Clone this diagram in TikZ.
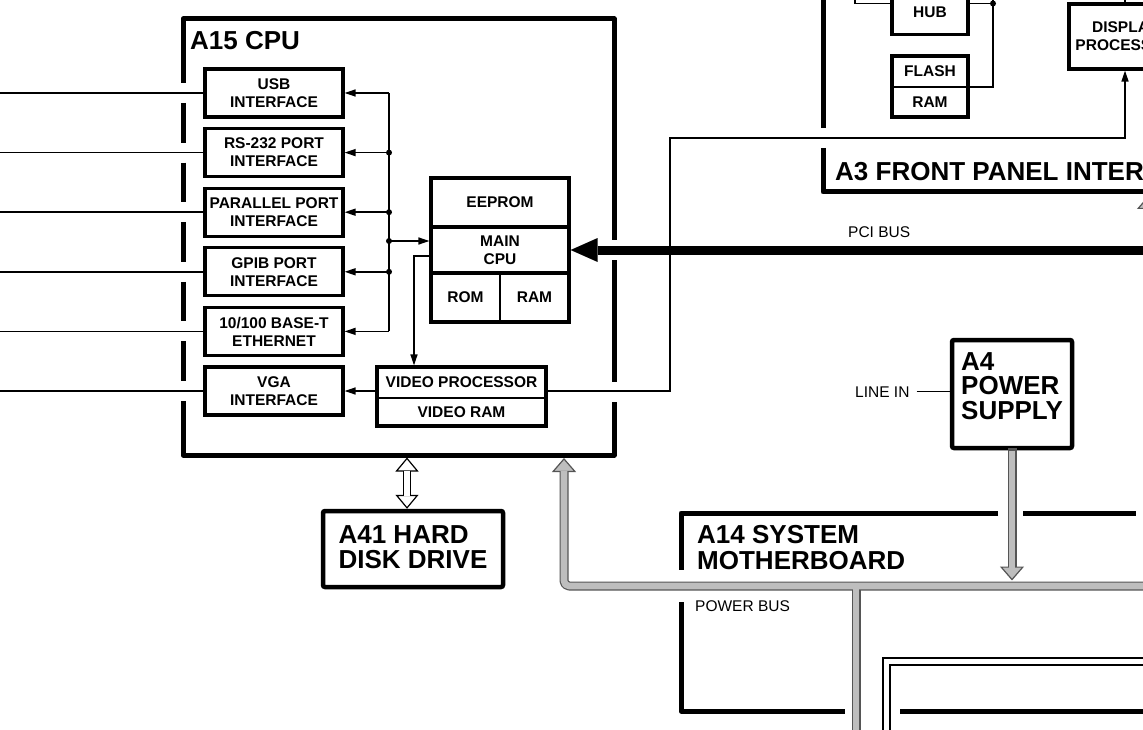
\documentclass[tikz,border=0pt]{standalone}
\usepackage{fontspec}
\setmainfont{Liberation Sans}
\usepackage{tikz}
\usetikzlibrary{arrows.meta, positioning, calc}
\definecolor{busgray}{RGB}{190, 190, 190}
\definecolor{busedge}{RGB}{85, 85, 85}

\begin{document}
\begin{tikzpicture}[
    x=1pt, y=-1pt,
    node distance=11.6pt,
    port/.style={rectangle, draw, line width=3.3pt, outer sep=0pt, minimum width=138pt,
                 minimum height=48pt, align=center, inner sep=1pt,
                 font=\fontsize{15.5}{18}\selectfont\bfseries},
    cell/.style={port, minimum height=0pt},
    subcell/.style={cell, line width=1.5pt},
    module/.style={rectangle, draw, line width=4.5pt, rounded corners=2pt, outer sep=0pt,
                   align=left, inner sep=0pt, font=\fontsize{26}{24.5}\selectfont\bfseries},
    boardtitle/.style={anchor=north west, inner sep=0pt, align=left,
                       font=\fontsize{26}{26}\selectfont\bfseries},
    buslabel/.style={inner sep=0pt, anchor=base west, font=\fontsize{15.5}{18}\selectfont},
    boardline/.style={line width=5pt, line join=round},
    wire/.style={line width=1.5pt},
    arrow/.style={wire, shorten >=1.6pt, -{Triangle[length=11pt, width=7pt]}},
    pci/.style={line width=9pt, shorten >=1.6pt, -{Triangle[length=27pt, width=24pt, line width=0pt]}},
    busline/.style={line width=9pt, busedge, line join=round},
    busfill/.style={line width=6.6pt, busgray, line join=round},
    bustip/.style={-{Triangle[length=14pt, width=24pt, fill=busgray, line width=1.2pt]}},
    diskline/.style={line width=8pt, shorten >=2.2pt,
                     {Triangle[length=14pt, width=23pt, fill=white, line width=1.2pt]}-{Triangle[length=14pt, width=23pt, fill=white, line width=1.2pt]}},
    dot/.style={circle, fill, inner sep=0pt, minimum size=6pt}
]
\useasboundingbox (0,0) rectangle (1143,730);

% A15 CPU
\node[port] (usb) at (274,93) {USB\\INTERFACE};
\node[port, below=of usb] (rs) {RS-232 PORT\\INTERFACE};
\node[port, below=of rs] (par) {PARALLEL PORT\\INTERFACE};
\node[port, below=of par] (gpib) {GPIB PORT\\INTERFACE};
\node[port, below=of gpib] (eth) {10/100 BASE-T\\ETHERNET};
\node[port, below=of eth] (vga) {VGA\\INTERFACE};

\node[cell, minimum height=49pt] (eeprom) at (500,202.5) {EEPROM};
\node[cell, minimum height=46pt, below=0pt of eeprom] (main) {MAIN\\CPU};
\node[subcell, minimum width=69pt, minimum height=49pt, below right=0pt of main.south west] (rom) {ROM};
\node[subcell, minimum width=69pt, minimum height=49pt, right=0pt of rom] (ram) {RAM};
\draw[line width=3.3pt] (rom.north west) rectangle (ram.south east);

\node[subcell, minimum width=169pt, minimum height=31pt] (vp) at (461.5,382.5) {VIDEO PROCESSOR};
\node[subcell, minimum width=169pt, minimum height=28pt, below=0pt of vp] (vram) {VIDEO RAM};
\draw[line width=3.3pt] (vp.north west) rectangle (vram.south east);

\node[boardtitle] (cputitle) at (190,31) {A15 CPU};
\draw[boardline] (183,83) -- (183,19) -- (614,19) -- (614,240);
\draw[boardline, dash pattern=on 39.6pt off 20pt, dash phase=39.6pt] (183,83) -- (183,402);
\draw[boardline] (183,401) -- (183,455) -- (614,455) -- (614,402);
\draw[boardline] (614,260) -- (614,382);

% A3 front panel
\node[cell, minimum width=76pt, minimum height=62pt] (hub) at (930,3.5) {USB\\HUB};
\node[subcell, minimum width=76pt, minimum height=31pt] (flash) at (930,71.5) {FLASH};
\node[subcell, minimum width=76pt, minimum height=30pt, below=0pt of flash] (fram) {RAM};
\draw[line width=3.3pt] (flash.north west) rectangle (fram.south east);
\node[cell, minimum width=112pt, minimum height=65pt] (disp) at (1125,36.5) {DISPLAY\\PROCESSOR};

\node[boardtitle] (fptitle) at (835,162) {A3 FRONT PANEL INTERFACE};
\draw[boardline] (823,-10) -- (823,128);
\draw[boardline] (823,148) -- (823,192) -- (1160,192);

% A14 motherboard
\node[boardtitle] (mbtitle) at (697,525) {A14 SYSTEM\\MOTHERBOARD};
\node[buslabel] (pwrlabel) at (695,611) {POWER BUS};
\draw[boardline] (998,513) -- (681,513) -- (681,570);
\draw[boardline] (1023,513) -- (1136,513);
\draw[boardline] (681,602) -- (681,711) -- (845,711);
\draw[boardline] (900,711) -- (1160,711);
\draw[line width=1.3pt] (1160,658) -- (883,658) -- (883,745);
\draw[line width=1.3pt] (1160,665) -- (890,665) -- (890,745);

\node[module, minimum width=180pt, minimum height=76pt, text depth=4pt] (hdd) at (413,549) {A41 HARD\\DISK DRIVE};
\node[module, minimum width=120pt, minimum height=108pt, text depth=16pt] (psu) at (1012,394) {A4\\POWER\\SUPPLY};
\node[buslabel] (linein) at (855,397) {LINE IN};
\node[buslabel] (pcilabel) at (848,237) {PCI BUS};

\coordinate (lft) at (-10,0);
\coordinate (busx) at (389,0);
\coordinate (vidx) at (414,0);
\coordinate (cpuin) at ([yshift=9pt]main.west);
\coordinate (cpuout) at ([yshift=-6pt]main.west);
\coordinate (bend) at (670,138);
\coordinate (hubtap) at (993,3.5);
\coordinate (hubup) at (855,-20);
\coordinate (pcistart) at (1175,250);
\coordinate (dskport) at (407,457.5);
\coordinate (pwrin) at (564,458);
\coordinate (pwrend) at (1175,586);
\coordinate (mbdrop) at (856,586);
\coordinate (mbbottom) at (856,745);
\coordinate (psutip) at (psu.south |- 0,580.5);
\coordinate (fpin) at (1149,195);

\foreach \p in {usb,rs,par,gpib,eth,vga}
  \draw[wire] (lft |- \p.west) -- (\p.west);
\draw[wire] (busx |- usb.east) -- (busx |- eth.east);
\foreach \p in {usb,rs,par,gpib,eth}
  \draw[arrow] (busx |- \p.east) -- (\p.east);
\foreach \p in {rs,par,gpib}
  \node[dot] (dot-\p) at (busx |- \p.east) {};
\draw[arrow] (busx |- cpuin) -- (cpuin);
\node[dot] (dot-main) at (busx |- cpuin) {};
\draw[arrow] (cpuout) -| (vidx |- vp.north);
\draw[arrow] (vp.west |- vga.east) -- (vga.east);
\draw[arrow] (vp.east |- vga.east) -| (bend) -| (disp.south);
\draw[pci] (pcistart) -- (main.east);

\draw[wire] (hub.west) -| (hubup);
\draw[wire] (hub.east) -- (hubtap) -- ++(0,-30);
\draw[wire] (hubtap) |- (flash.south east);
\node[dot] (dot-hub) at (hubtap) {};
\draw[wire] (disp.north) -- ++(0,-20);
\draw[wire] ([xshift=7pt]linein.east) -- (psu.west |- linein.east);

% power bus
\draw[busline, bustip, rounded corners=5pt] (pwrend) -| (pwrin);
\draw[busline] (mbdrop) -- (mbbottom);
\draw[busline, bustip] (psu.south) -- (psutip);
\draw[busline, bustip] (pwrend -| fpin) -- (fpin);
\draw[busfill, rounded corners=5pt, shorten >=13pt] (pwrend) -| (pwrin);
\draw[busfill] (mbdrop) -- (mbbottom);
\draw[busfill, shorten <=2.5pt, shorten >=13pt] (psu.south) -- (psutip);
\draw[busfill, shorten >=13pt] (pwrend -| fpin) -- (fpin);

\draw[diskline] (dskport) -- (dskport |- hdd.north);
\draw[line width=5.6pt, white, shorten <=13pt, shorten >=15.2pt] (dskport) -- (dskport |- hdd.north);
\end{tikzpicture}
\end{document}
